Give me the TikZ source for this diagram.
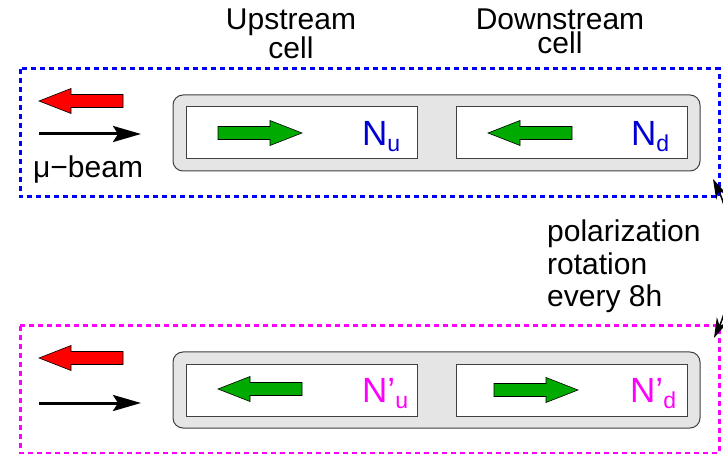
\documentclass[tikz,border=0pt]{standalone}
\usepackage{fontspec}
\setmainfont{Liberation Sans}
\usetikzlibrary{arrows.meta}

\definecolor{runblue}{RGB}{0,0,255}
\definecolor{labelblue}{RGB}{0,0,210}
\definecolor{runmagenta}{RGB}{255,0,255}
\definecolor{spingreen}{RGB}{0,170,0}
\definecolor{beamred}{RGB}{255,0,0}
\definecolor{framegray}{RGB}{229,229,229}

\newcommand{\polN}[2]{\fontsize{35}{35}\selectfont N#1\raisebox{-6pt}{\fontsize{23}{23}\selectfont #2}}

\begin{document}
\begin{tikzpicture}[x=1pt,y=-1pt,
  txt/.style={inner sep=0pt,font=\fontsize{30}{24}\selectfont},
  runbox/.style={line width=3pt,dash pattern=on 5pt off 4pt},
  target/.style={draw=black!75,fill=framegray,rounded corners=10pt,line width=1pt,
                 minimum width=527pt,minimum height=76pt,inner sep=0pt},
  cellbox/.style={draw=black!75,fill=white,line width=1pt,
                  minimum width=231pt,minimum height=52pt,inner sep=0pt},
  spinarrow/.pic={\draw[pic actions] (0,-6.5) -- (52,-6.5) -- (52,-12.5) -- (84,0)
                   -- (52,12.5) -- (52,6.5) -- (0,6.5) -- cycle;},
  beam/.style={line width=3pt,-{Stealth[length=28pt,width=16pt,inset=5pt]}},
  rot/.style={line width=1.5pt,{Stealth[length=20pt,width=12pt]}-{Stealth[length=20pt,width=12pt]}}]

\useasboundingbox (0,0) rectangle (723,454);

 \draw (291,9) node[txt,anchor=north,align=center] (upcell) {Upstream\\cell};
 \draw (560,9) node[txt,anchor=north,align=center] (downcell) {Downstream\\cell};

 % first run
 \draw[runbox,runblue] (20,69) rectangle (719,197);
 \draw (436.5,133) node[target] (frame) {};
 \draw (302,133) node[cellbox] (ucell) {};
 \draw (571.5,133) node[cellbox] (dcell) {};
 \draw (362,146) node[anchor=base west,inner sep=0pt,text=labelblue] (Nu) {\polN{}{u}};
 \draw (631,146) node[anchor=base west,inner sep=0pt,text=labelblue] (Nd) {\polN{}{d}};
 \pic[fill=beamred,draw=black,line width=0.6pt,rotate=180] at (123,101) {spinarrow};
 \pic[fill=spingreen,draw=black,line width=0.6pt] at (218,133) {spinarrow};
 \pic[fill=spingreen,draw=black,line width=0.6pt,rotate=180] at (572,133) {spinarrow};
 \coordinate (beamin) at (39,134);
 \coordinate (beamout) at (141,134);
 \path[beam] (beamin) edge (beamout);
 \draw (33,178) node[txt,anchor=base west] (mubeam) {μ−beam};

 \draw (547,220) node[txt,anchor=north west,align=left,font=\fontsize{30}{32.5}\selectfont] (rotation) {polarization\\rotation\\every 8h};

 % second run
 \draw[runbox,runmagenta] (20,326) rectangle (719,453);
 \draw (436.5,390) node[target] (frame2) {};
 \draw (302,390) node[cellbox] (ucell2) {};
 \draw (571.5,390) node[cellbox] (dcell2) {};
 \draw (362,402) node[anchor=base west,inner sep=0pt,text=runmagenta] (Nu2) {\polN{’}{u}};
 \draw (630,402) node[anchor=base west,inner sep=0pt,text=runmagenta] (Nd2) {\polN{’}{d}};
 \pic[fill=beamred,draw=black,line width=0.6pt,rotate=180] at (123,358) {spinarrow};
 \pic[fill=spingreen,draw=black,line width=0.6pt,rotate=180] at (302,389) {spinarrow};
 \pic[fill=spingreen,draw=black,line width=0.6pt] at (494,390) {spinarrow};
 \coordinate (beamin2) at (39,403);
 \coordinate (beamout2) at (141,403);
 \path[beam] (beamin2) edge (beamout2);

 \coordinate (rotfrom) at (713,179);
 \coordinate (rotto) at (714,338);
 \draw[rot] (rotfrom) .. controls (735,225) and (735,292) .. (rotto);

\end{tikzpicture}
\end{document}
